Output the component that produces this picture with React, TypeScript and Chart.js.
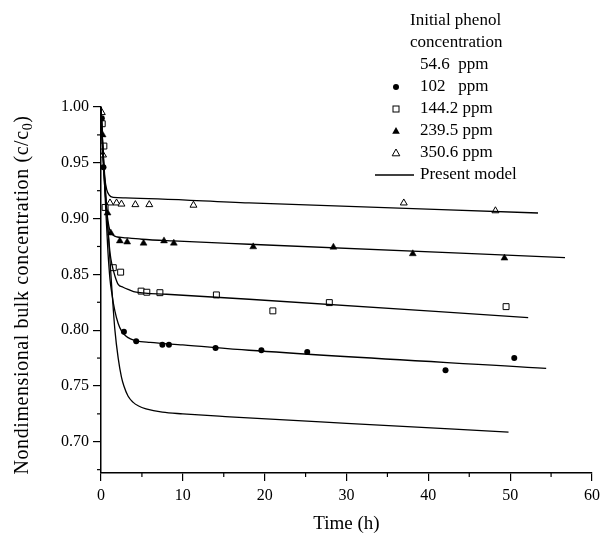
import { useEffect, useRef } from "react";
import { Chart, registerables } from "chart.js";
Chart.register(...registerables);

// ---- axis ticks ----
const xTickValues = [0, 10, 20, 30, 40, 50, 60];
const xMinorValues = [5, 15, 25, 35, 45, 55];
const yTickValues = [0.7, 0.75, 0.8, 0.85, 0.9, 0.95, 1.0];
const yMinorValues = [0.675, 0.725, 0.775, 0.825, 0.875, 0.925, 0.975];

// ---- experimental data ----
const t102 = [0.1, 0.3, 2.8, 4.3, 7.5, 8.3, 14.0, 19.6, 25.2, 42.1, 50.5];
const c102 = [0.99, 0.946, 0.7985, 0.790, 0.787, 0.787, 0.784, 0.782, 0.7804, 0.764, 0.775];

const t144 = [0.15, 0.35, 0.5, 1.5, 2.4, 4.9, 5.6, 7.2, 14.1, 21.0, 27.9, 49.5];
const c144 = [0.985, 0.965, 0.91, 0.856, 0.852, 0.835, 0.834, 0.8336, 0.8316, 0.8173, 0.8247, 0.8211];

const t239 = [0.2, 0.8, 1.2, 2.3, 3.2, 5.2, 7.7, 8.9, 18.6, 28.4, 38.1, 49.3];
const c239 = [0.975, 0.905, 0.887, 0.880, 0.879, 0.878, 0.880, 0.878, 0.8747, 0.8744, 0.8685, 0.8646];

const t350 = [0.1, 0.25, 1.1, 1.9, 2.5, 4.2, 5.9, 11.3, 37.0, 48.2];
const c350 = [0.995, 0.957, 0.914, 0.914, 0.913, 0.9125, 0.9125, 0.912, 0.914, 0.907];

// ---- model curves ----
const tM54 = [0, 0.15, 0.35, 0.6, 0.9, 1.3, 1.7, 2.1, 2.5, 2.8, 3.3, 3.9, 4.6, 5.5, 7.5, 10, 15.2, 30, 49.8];
const cM54 = [1.0, 0.975, 0.95, 0.92, 0.885, 0.84, 0.80, 0.775, 0.758, 0.75, 0.741, 0.7355, 0.732, 0.7295, 0.7265, 0.725, 0.7226, 0.7165, 0.7086];

const tM102 = [0, 0.15, 0.35, 0.6, 0.85, 1.1, 1.3, 1.7, 2.1, 2.5, 3.0, 3.6, 4.3, 6, 10, 18.1, 54.4];
const cM102 = [1.0, 0.975, 0.945, 0.905, 0.87, 0.8455, 0.834, 0.817, 0.806, 0.7994, 0.795, 0.7922, 0.7905, 0.789, 0.7868, 0.782, 0.7658];

const tM144 = [0, 0.15, 0.35, 0.6, 0.85, 1.1, 1.3, 1.7, 2.1, 2.7, 3.3, 4.3, 8, 18.1, 52.2];
const cM144 = [1.0, 0.975, 0.945, 0.915, 0.89, 0.8696, 0.86, 0.8485, 0.841, 0.8385, 0.8366, 0.834, 0.8322, 0.8277, 0.8113];

const tM239 = [0, 0.15, 0.35, 0.6, 0.85, 1.1, 1.5, 2.0, 2.7, 5, 8.8, 18.1, 56.7];
const cM239 = [1.0, 0.97, 0.94, 0.915, 0.898, 0.889, 0.885, 0.8835, 0.883, 0.8815, 0.880, 0.877, 0.865];

const tM350 = [0, 0.1, 0.25, 0.45, 0.7, 1.0, 1.5, 3, 18.1, 53.4];
const cM350 = [1.0, 0.98, 0.955, 0.937, 0.926, 0.921, 0.919, 0.9185, 0.914, 0.905];

// ---- legend ----
const legendTitle = ["Initial phenol", "concentration"];
const legendLabels = ["54.6  ppm", "102   ppm", "144.2 ppm", "239.5 ppm", "350.6 ppm", "Present model"];

const FONT = "'Liberation Serif', 'Times New Roman', serif";

const zip = (xs: number[], ys: number[]) => xs.map((x, i) => ({ x, y: ys[i] }));

function drawMarker(ctx: CanvasRenderingContext2D, kind: string, x: number, y: number) {
  ctx.save();
  ctx.strokeStyle = "#000";
  ctx.fillStyle = "#000";
  ctx.lineWidth = 1;
  if (kind === "circle") {
    ctx.beginPath();
    ctx.arc(x, y, 3, 0, Math.PI * 2);
    ctx.fill();
  } else if (kind === "square") {
    ctx.fillStyle = "#fff";
    ctx.fillRect(x - 3, y - 3, 6, 6);
    ctx.strokeRect(x - 3, y - 3, 6, 6);
  } else if (kind === "tri" || kind === "otri") {
    ctx.beginPath();
    ctx.moveTo(x, y - 4);
    ctx.lineTo(x + 3.8, y + 2.8);
    ctx.lineTo(x - 3.8, y + 2.8);
    ctx.closePath();
    if (kind === "tri") ctx.fill();
    else {
      ctx.fillStyle = "#fff";
      ctx.fill();
      ctx.stroke();
    }
  }
  ctx.restore();
}

const decorPlugin = {
  id: "decor",
  afterDraw(chart: any) {
    const ctx: CanvasRenderingContext2D = chart.ctx;
    const xs = chart.scales.x;
    const ys = chart.scales.y;
    const area = chart.chartArea;
    ctx.save();
    ctx.strokeStyle = "#000";
    ctx.lineWidth = 1.2;
    // minor ticks
    xMinorValues.forEach((v) => {
      const px = xs.getPixelForValue(v);
      ctx.beginPath();
      ctx.moveTo(px, area.bottom);
      ctx.lineTo(px, area.bottom + 4);
      ctx.stroke();
    });
    yMinorValues.forEach((v) => {
      const py = ys.getPixelForValue(v);
      ctx.beginPath();
      ctx.moveTo(area.left, py);
      ctx.lineTo(area.left - 4, py);
      ctx.stroke();
    });
    // x title
    ctx.fillStyle = "#000";
    ctx.font = `19px ${FONT}`;
    ctx.textAlign = "center";
    ctx.textBaseline = "middle";
    ctx.fillText("Time (h)", (area.left + area.right) / 2, 524);
    // y title with subscript
    ctx.save();
    ctx.translate(23, 295);
    ctx.rotate(-Math.PI / 2);
    (ctx as any).letterSpacing = "0.6px";
    const main = "Nondimensional bulk concentration (c/c";
    ctx.font = `20px ${FONT}`;
    const wMain = ctx.measureText(main).width;
    ctx.font = `14px ${FONT}`;
    const wSub = ctx.measureText("0").width;
    ctx.font = `20px ${FONT}`;
    const wEnd = ctx.measureText(")").width;
    const total = wMain + wSub + wEnd;
    let cx = -total / 2;
    ctx.textAlign = "left";
    ctx.fillText(main, cx, 0);
    cx += wMain;
    ctx.font = `14px ${FONT}`;
    ctx.fillText("0", cx, 5);
    cx += wSub;
    ctx.font = `20px ${FONT}`;
    ctx.fillText(")", cx, 0);
    (ctx as any).letterSpacing = "0px";
    ctx.restore();
    // legend
    ctx.font = `17px ${FONT}`;
    ctx.textAlign = "left";
    ctx.textBaseline = "middle";
    ctx.fillText(legendTitle[0], 410, 21);
    ctx.fillText(legendTitle[1], 410, 43);
    const kinds = ["none", "circle", "square", "tri", "otri", "line"];
    legendLabels.forEach((lab, i) => {
      const y = 65 + i * 22;
      ctx.fillText(lab, 420, y);
      const k = kinds[i];
      if (k === "line") {
        ctx.beginPath();
        ctx.lineWidth = 1.3;
        ctx.moveTo(375, y);
        ctx.lineTo(414, y);
        ctx.stroke();
      } else if (k !== "none") {
        drawMarker(ctx, k, 396, y);
      }
    });
    ctx.restore();
  },
};

export default function App() {
  const ref = useRef<HTMLCanvasElement | null>(null);
  useEffect(() => {
    document.body.style.margin = "0";
    const canvas = ref.current!;
    const lineDs = (xs: number[], ys: number[]) => ({
      type: "line" as const,
      data: zip(xs, ys),
      borderColor: "#000",
      borderWidth: 1.3,
      pointRadius: 0,
      fill: false,
      cubicInterpolationMode: "monotone" as const,
    });
    const chart = new Chart(canvas, {
      type: "scatter",
      data: {
        datasets: [
          lineDs(tM54, cM54),
          lineDs(tM102, cM102),
          lineDs(tM144, cM144),
          lineDs(tM239, cM239),
          lineDs(tM350, cM350),
          {
            data: zip(t102, c102),
            pointStyle: "circle",
            pointRadius: 3,
            backgroundColor: "#000",
            borderColor: "#000",
            borderWidth: 0,
          },
          {
            data: zip(t144, c144),
            pointStyle: "rect",
            pointRadius: 4.2,
            backgroundColor: "#fff",
            borderColor: "#000",
            borderWidth: 1,
          },
          {
            data: zip(t239, c239),
            pointStyle: "triangle",
            pointRadius: 4,
            backgroundColor: "#000",
            borderColor: "#000",
            borderWidth: 0.5,
          },
          {
            data: zip(t350, c350),
            pointStyle: "triangle",
            pointRadius: 4,
            backgroundColor: "#fff",
            borderColor: "#000",
            borderWidth: 1,
          },
        ] as any,
      },
      options: {
        animation: false,
        responsive: false,
        devicePixelRatio: 1,
        layout: { padding: { left: 0, right: 11, top: 107, bottom: 0 } },
        plugins: { legend: { display: false }, tooltip: { enabled: false } },
        scales: {
          x: {
            type: "linear",
            min: 0,
            max: 60,
            afterBuildTicks: (s: any) => {
              s.ticks = xTickValues.map((v) => ({ value: v }));
            },
            afterFit: (s: any) => {
              s.height = 65;
            },
            ticks: {
              color: "#000",
              font: { family: FONT, size: 16 },
              padding: 5,
              maxRotation: 0,
              callback: (v: any) => String(v),
            },
            grid: { display: true, drawOnChartArea: false, drawTicks: true, tickLength: 8, color: "#000", lineWidth: 1.2 },
            border: { display: true, color: "#000", width: 1.5 },
          },
          y: {
            type: "linear",
            min: 0.672,
            max: 1.0,
            afterBuildTicks: (s: any) => {
              s.ticks = yTickValues.map((v) => ({ value: v }));
            },
            afterFit: (s: any) => {
              s.width = 101;
            },
            ticks: {
              color: "#000",
              font: { family: FONT, size: 16 },
              padding: 4,
              callback: (v: any) => Number(v).toFixed(2),
            },
            grid: { display: true, drawOnChartArea: false, drawTicks: true, tickLength: 8, color: "#000", lineWidth: 1.2 },
            border: { display: true, color: "#000", width: 1.5 },
          },
        },
      },
      plugins: [decorPlugin],
    } as any);
    return () => chart.destroy();
  }, []);
  return <canvas ref={ref} width={605} height={538} style={{ display: "block" }} />;
}
